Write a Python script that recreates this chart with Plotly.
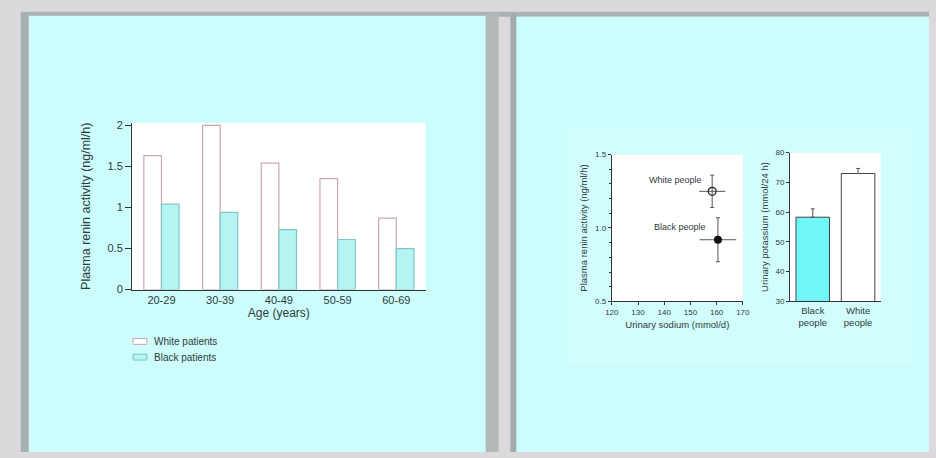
import plotly.graph_objects as go

W, H = 936, 458

# ---- data ----
age_groups = ["20-29", "30-39", "40-49", "50-59", "60-69"]
white_patients = [1.63, 2.0, 1.54, 1.35, 0.87]
black_patients = [1.04, 0.94, 0.73, 0.61, 0.50]

groups = ["White people", "Black people"]
sodium = [158.3, 160.5]
sodium_err = [5.0, 7.0]
renin = [1.25, 0.92]
renin_err = [0.11, 0.15]

pot_labels = ["Black<br>people", "White<br>people"]
potassium = [58.3, 73.0]
potassium_err = [2.8, 1.7]

legend_labels = ["White patients", "Black patients"]

FONT = "Liberation Sans, Arial, sans-serif"
TXT = "#2e3b3b"
AX = "#333333"
WHITE_LINE = "#c9a9a9"
CYAN_FILL = "#b6f3f3"
CYAN_LINE = "#7fc6c6"


def px(x):
    return x / W


def py(y):
    return 1 - y / H


fig = go.Figure()

# Left chart: bars
fig.add_trace(go.Bar(x=age_groups, y=white_patients, name=legend_labels[0],
                     marker=dict(color="white", line=dict(color=WHITE_LINE, width=1.2)),
                     xaxis="x", yaxis="y", showlegend=False, cliponaxis=False))
fig.add_trace(go.Bar(x=age_groups, y=black_patients, name=legend_labels[1],
                     marker=dict(color=CYAN_FILL, line=dict(color=CYAN_LINE, width=1.2)),
                     xaxis="x", yaxis="y", showlegend=False, cliponaxis=False))

# Right scatter
fig.add_trace(go.Scatter(x=[sodium[0]], y=[renin[0]], mode="markers", name=groups[0],
                         marker=dict(symbol="circle-open", size=8, color="#222", line=dict(width=1.2)),
                         error_x=dict(type="data", array=[sodium_err[0]], color="#555", thickness=1, width=0),
                         error_y=dict(type="data", array=[renin_err[0]], color="#555", thickness=1, width=2),
                         showlegend=False, xaxis="x2", yaxis="y2"))
fig.add_trace(go.Scatter(x=[sodium[1]], y=[renin[1]], mode="markers", name=groups[1],
                         marker=dict(symbol="circle", size=8, color="#111"),
                         error_x=dict(type="data", array=[sodium_err[1]], color="#555", thickness=1, width=0),
                         error_y=dict(type="data", array=[renin_err[1]], color="#555", thickness=1, width=2),
                         showlegend=False, xaxis="x2", yaxis="y2"))

# Right bar chart
fig.add_trace(go.Bar(x=pot_labels, y=potassium, width=0.74,
                     marker=dict(color=["#6ff6f6", "white"], line=dict(color="#444", width=1)),
                     error_y=dict(type="data", symmetric=False, array=potassium_err,
                                  arrayminus=[0, 0], color="#555", thickness=1, width=2),
                     showlegend=False, xaxis="x3", yaxis="y3"))

shapes = [
    # top band
    dict(type="rect", xref="paper", yref="paper", x0=0, x1=1, y0=py(13), y1=1,
         fillcolor="#dcd9dc", line=dict(width=0), layer="below"),
    dict(type="rect", xref="paper", yref="paper", x0=px(14), x1=1, y0=py(13), y1=py(8),
         fillcolor="#aab2b4", line=dict(width=0), layer="below"),
    # panels
    dict(type="rect", xref="paper", yref="paper", x0=px(22), x1=px(486), y0=0, y1=py(12),
         fillcolor="#ccfdfc", line=dict(width=0), layer="below"),
    dict(type="rect", xref="paper", yref="paper", x0=px(517), x1=1, y0=0, y1=py(13),
         fillcolor="#ccfdfc", line=dict(width=0), layer="below"),
    # shadows / gap
    dict(type="rect", xref="paper", yref="paper", x0=px(14), x1=px(22), y0=0, y1=py(9),
         fillcolor="#a7b0b0", line=dict(width=0), layer="below"),
    dict(type="rect", xref="paper", yref="paper", x0=px(486), x1=px(499), y0=0, y1=py(9),
         fillcolor="#b5b8b8", line=dict(width=0), layer="below"),
    dict(type="rect", xref="paper", yref="paper", x0=px(511), x1=px(517), y0=0, y1=py(10),
         fillcolor="#a3acac", line=dict(width=0), layer="below"),
    # faint lighter region on right panel
    dict(type="rect", xref="paper", yref="paper", x0=px(568), x1=px(918), y0=py(368), y1=py(127),
         fillcolor="#d1fefd", line=dict(width=0), layer="below"),
    # white plot areas
    dict(type="rect", xref="x domain", yref="y domain", x0=0, x1=1, y0=0, y1=1,
         fillcolor="white", line=dict(width=0), layer="below"),
    dict(type="rect", xref="x2 domain", yref="y2 domain", x0=0, x1=1, y0=0, y1=1,
         fillcolor="white", line=dict(width=0), layer="below"),
    dict(type="rect", xref="x3 domain", yref="y3 domain", x0=0, x1=1, y0=0, y1=1,
         fillcolor="white", line=dict(width=0), layer="below"),
    # manual legend swatches
    dict(type="rect", xref="paper", yref="paper", x0=px(128), x1=px(142), y0=py(348), y1=py(342),
         fillcolor="white", line=dict(color=WHITE_LINE, width=1)),
    dict(type="rect", xref="paper", yref="paper", x0=px(128), x1=px(142), y0=py(364), y1=py(358),
         fillcolor=CYAN_FILL, line=dict(color=CYAN_LINE, width=1)),
]

annotations = [
    dict(x=144.3, y=1.33, xref="x2", yref="y2", text=groups[0], showarrow=False,
         font=dict(size=9, color=TXT, family=FONT)),
    dict(x=146.2, y=1.01, xref="x2", yref="y2", text=groups[1], showarrow=False,
         font=dict(size=9, color=TXT, family=FONT)),
    dict(x=px(147), y=py(345), xref="paper", yref="paper", text=legend_labels[0], showarrow=False,
         xanchor="left", yanchor="middle", font=dict(size=10, color=TXT, family=FONT)),
    dict(x=px(147), y=py(361), xref="paper", yref="paper", text=legend_labels[1], showarrow=False,
         xanchor="left", yanchor="middle", font=dict(size=10, color=TXT, family=FONT)),
]

axis_common = dict(showline=True, linecolor=AX, linewidth=1.2, ticks="outside", tickcolor=AX,
                   ticklen=6, showgrid=False, zeroline=False,
                   tickfont=dict(size=11, color=TXT, family=FONT))
small_axis = dict(showline=True, linecolor=AX, linewidth=1, ticks="outside", tickcolor=AX,
                  ticklen=3, showgrid=False, zeroline=False,
                  tickfont=dict(size=8, color=TXT, family=FONT))

fig.update_layout(
    width=W, height=H, margin=dict(l=0, r=0, t=0, b=0),
    paper_bgcolor="#dcd9dc", plot_bgcolor="white",
    barmode="group", bargap=0.4, bargroupgap=0,
    font=dict(family=FONT, color=TXT),
    shapes=shapes, annotations=annotations, showlegend=False,
    xaxis=dict(axis_common, domain=[px(127), px(425)], anchor="y", ticks="",
               title=dict(text="Age (years)", font=dict(size=12, color=TXT), standoff=2)),
    yaxis=dict(axis_common, domain=[py(292), py(121.5)], anchor="x", range=[0, 2.03],
               tickvals=[0, 0.5, 1, 1.5, 2], ticktext=["0", "0.5", "1", "1.5", "2"],
               title=dict(text="Plasma renin activity (ng/ml/h)", font=dict(size=12.5, color=TXT), standoff=14)),
    xaxis2=dict(small_axis, domain=[px(614), px(747)], anchor="y2", range=[120, 170],
                tickvals=[120, 130, 140, 150, 160, 170],
                title=dict(text="Urinary sodium (mmol/d)", font=dict(size=9.5, color=TXT), standoff=5)),
    yaxis2=dict(small_axis, domain=[py(304), py(154)], anchor="x2", range=[0.5, 1.5],
                tickvals=[0.5, 1.0, 1.5], ticktext=["0.5", "1.0", "1.5"],
                minor=dict(ticks="outside", ticklen=2, tickcolor=AX, dtick=0.1),
                title=dict(text="Plasma renin activity (ng/ml/h)", font=dict(size=9.5, color=TXT), standoff=5)),
    xaxis3=dict(small_axis, domain=[px(795), px(887)], anchor="y3", ticks="",
                tickfont=dict(size=9.5, color=TXT, family=FONT)),
    yaxis3=dict(small_axis, domain=[py(304), py(152)], anchor="x3", range=[30, 80],
                tickvals=[30, 40, 50, 60, 70, 80],
                title=dict(text="Urinary potassium (mmol/24 h)", font=dict(size=9.5, color=TXT), standoff=5)),
)

fig.write_html("out.html", config={"displayModeBar": False},
               post_script="document.body.style.margin='0';")
